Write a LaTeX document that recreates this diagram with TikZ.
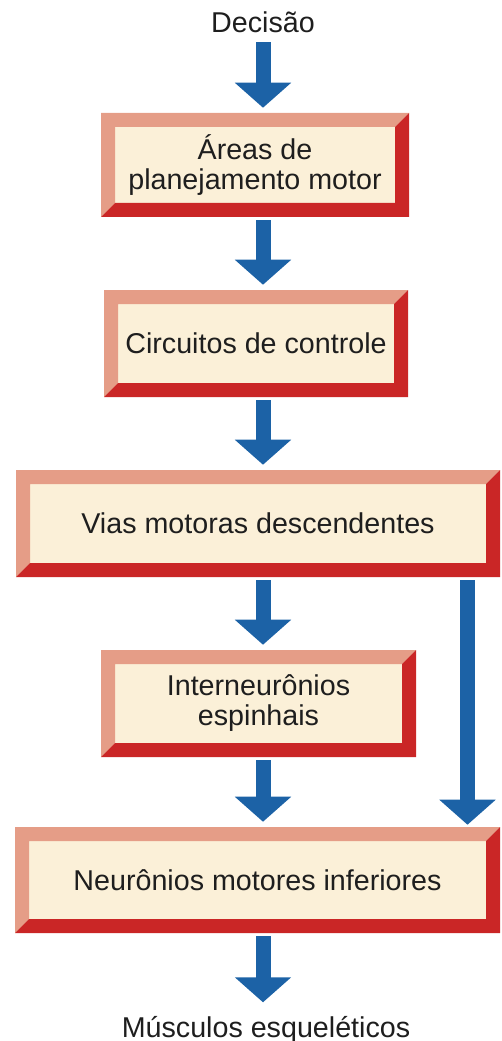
\documentclass[tikz,border=0pt]{standalone}
\usepackage{fontspec}
\setmainfont{Liberation Sans}
\usetikzlibrary{arrows.meta}
\usetikzlibrary{positioning}

\definecolor{bevlight}{RGB}{229,157,135}
\definecolor{bevdark}{RGB}{202,38,38}
\definecolor{panelfill}{RGB}{251,240,216}
\definecolor{arrowblue}{RGB}{28,98,166}
\definecolor{labeltext}{RGB}{30,30,30}

\newcommand{\bevw}{10.5pt}

\tikzset{
  panel/.style={rectangle, inner sep=0pt, align=center, fill=panelfill,
    font=\fontsize{21.5}{22.5}\selectfont, text=labeltext,
    path picture={
      \path (path picture bounding box.south west) coordinate (pp-sw)
            (path picture bounding box.north east) coordinate (pp-ne);
      \fill[bevlight] (pp-sw) |- (pp-ne) -- ([xshift=-\bevw,yshift=-\bevw]pp-ne)
        -| ([xshift=\bevw,yshift=\bevw]pp-sw) -- cycle;
      \fill[bevdark] (pp-sw) -| (pp-ne) -- ([xshift=-\bevw,yshift=-\bevw]pp-ne)
        |- ([xshift=\bevw,yshift=\bevw]pp-sw) -- cycle;
    }},
  outside/.style={inner sep=0pt, font=\fontsize{21.5}{22.5}\selectfont, text=labeltext},
  fatarrow/.style={draw=arrowblue, line width=11.25pt,
    -{Triangle[width=41.25pt,length=18.75pt]}, shorten <=2.25pt, shorten >=3.75pt}
}

\begin{document}
\begin{tikzpicture}[x=0.75pt,y=0.75pt,yscale=-1,xscale=1]
\useasboundingbox (0,0) rectangle (502,1041);

% columns of the arrows
\coordinate (axis) at (263,0);
\coordinate (side) at (467.5,0);

% Text Node
\node[outside] (dec) at (263,22) {Decisão};
% Boxes
\node[panel, minimum width=231pt, minimum height=78pt] (plan) at (255,165) {Áreas de\\planejamento motor};
\node[panel, minimum width=228pt, minimum height=80.25pt] (circ) at (256,343.5) {Circuitos de controle};
\node[panel, minimum width=363pt, minimum height=80.25pt] (vias) at (258,523.5) {Vias motoras descendentes};
\node[panel, minimum width=236.25pt, minimum height=80.25pt] (inter) at (258.5,703.5) {Interneurônios\\espinhais};
\node[panel, minimum width=363.75pt, minimum height=79.5pt] (motor) at (257.5,880) {Neurônios motores inferiores};
% Text Node
\node[outside, anchor=base] (musc) at (266,1037) {Músculos esqueléticos};

% Arrows
\draw[fatarrow, shorten <=7pt] (dec.south -| axis) -- (plan.north -| axis);
\draw[fatarrow] (plan.south -| axis) -- (circ.north -| axis);
\draw[fatarrow] (circ.south -| axis) -- (vias.north -| axis);
\draw[fatarrow] (vias.south -| axis) -- (inter.north -| axis);
\draw[fatarrow] (inter.south -| axis) -- (motor.north -| axis);
\draw[fatarrow, shorten >=1.5pt] (vias.south -| side) -- (motor.north -| side);
\draw[fatarrow, shorten >=10pt] (motor.south -| axis) -- (musc.north -| axis);

\end{tikzpicture}
\end{document}
